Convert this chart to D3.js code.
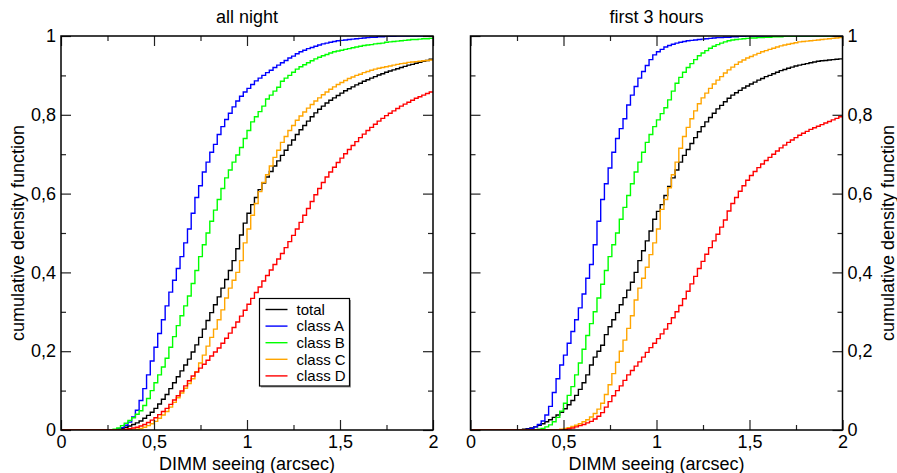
<!DOCTYPE html>
<html>
<head>
  <meta charset="UTF-8">
  <title>DIMM seeing cumulative distributions</title>
  <script src="https://cdnjs.cloudflare.com/ajax/libs/d3/7.8.5/d3.min.js"></script>
  <style>
    body { margin: 0; background: #fff; }
    svg { font-family: "Liberation Sans", Arial, sans-serif; }
    .frame { fill: none; stroke: #000; stroke-width: 1.5; }
    .tick line { stroke: #222; stroke-width: 1.2; }
    .tick text { font-size: 18px; fill: #000; }
    .title, .axis-title { font-size: 18px; fill: #000; }
    .legend text { font-size: 15px; fill: #000; }
  </style>
</head>
<body>
<div id="chart"></div>
<script>
  // Series names / colours (legend order)
  const seriesNames = ["total", "class A", "class B", "class C", "class D"];
  const seriesColors = ["#000000", "#0000ff", "#00ff00", "#ffa500", "#ff0000"];

  // CDF per 0.02 arcsec bin, bins starting at 0.00 ... 1.98
  // all night
  const allNightTotal = [
    0,0,0,0,0,0,0,0,0,0,
    0,0,0,0,0,0.002,0.004,0.007,0.01,0.014,
    0.018,0.023,0.03,0.037,0.045,0.055,0.066,0.078,0.09,0.105,
    0.12,0.135,0.15,0.165,0.18,0.198,0.216,0.235,0.256,0.278,
    0.298,0.318,0.338,0.36,0.382,0.405,0.43,0.46,0.495,0.525,
    0.55,0.572,0.59,0.61,0.627,0.642,0.656,0.67,0.683,0.697,
    0.71,0.723,0.736,0.75,0.762,0.773,0.784,0.795,0.805,0.814,
    0.822,0.83,0.837,0.843,0.849,0.855,0.861,0.866,0.871,0.876,
    0.88,0.885,0.889,0.893,0.897,0.901,0.904,0.908,0.911,0.914,
    0.917,0.92,0.923,0.926,0.928,0.931,0.933,0.936,0.938,0.941
  ];
  const allNightA = [
    0,0,0,0,0,0,0,0,0,0,
    0,0,0,0,0,0.003,0.006,0.012,0.02,0.033,
    0.05,0.075,0.105,0.14,0.175,0.21,0.245,0.28,0.315,0.35,
    0.38,0.41,0.44,0.475,0.51,0.55,0.59,0.62,0.655,0.68,
    0.705,0.725,0.75,0.77,0.788,0.804,0.82,0.835,0.847,0.858,
    0.867,0.877,0.886,0.893,0.9,0.907,0.913,0.92,0.926,0.932,
    0.938,0.944,0.949,0.955,0.96,0.964,0.968,0.971,0.974,0.977,
    0.98,0.982,0.984,0.986,0.988,0.989,0.99,0.991,0.992,0.993,
    0.994,0.995,0.996,0.997,0.997,0.998,0.998,0.999,0.999,0.999,
    1,1,1,1,1,1,1,1,1,1
  ];
  const allNightB = [
    0,0,0,0,0,0,0,0,0,0,
    0,0,0,0,0.002,0.005,0.011,0.017,0.024,0.031,
    0.04,0.049,0.062,0.08,0.1,0.12,0.14,0.16,0.182,0.21,
    0.237,0.265,0.29,0.315,0.34,0.372,0.405,0.44,0.47,0.5,
    0.53,0.558,0.585,0.613,0.64,0.66,0.68,0.698,0.717,0.74,
    0.76,0.782,0.795,0.808,0.822,0.84,0.85,0.86,0.87,0.885,
    0.893,0.9,0.908,0.916,0.922,0.927,0.932,0.937,0.942,0.946,
    0.95,0.953,0.957,0.96,0.962,0.964,0.966,0.968,0.97,0.972,
    0.974,0.976,0.977,0.978,0.98,0.981,0.982,0.984,0.985,0.986,
    0.987,0.988,0.989,0.99,0.991,0.991,0.992,0.993,0.993,0.994
  ];
  const allNightC = [
    0,0,0,0,0,0,0,0,0,0,
    0,0,0,0,0,0,0,0,0,0,
    0.002,0.004,0.007,0.011,0.016,0.022,0.03,0.038,0.047,0.058,
    0.07,0.082,0.094,0.106,0.118,0.13,0.148,0.17,0.19,0.213,
    0.235,0.256,0.28,0.305,0.335,0.36,0.38,0.4,0.43,0.475,
    0.51,0.545,0.575,0.605,0.628,0.648,0.67,0.692,0.71,0.73,
    0.745,0.76,0.773,0.786,0.797,0.807,0.817,0.826,0.835,0.843,
    0.851,0.858,0.865,0.871,0.877,0.882,0.887,0.892,0.896,0.9,
    0.903,0.907,0.91,0.913,0.916,0.918,0.92,0.922,0.924,0.926,
    0.928,0.93,0.931,0.933,0.934,0.935,0.936,0.937,0.938,0.939
  ];
  const allNightD = [
    0,0,0,0,0,0,0,0,0,0,
    0,0,0,0,0,0,0,0.002,0.003,0.005,
    0.007,0.01,0.014,0.019,0.025,0.031,0.039,0.047,0.055,0.065,
    0.076,0.087,0.099,0.112,0.125,0.137,0.147,0.157,0.167,0.177,
    0.188,0.198,0.208,0.22,0.233,0.246,0.26,0.274,0.289,0.304,
    0.319,0.334,0.349,0.363,0.378,0.392,0.406,0.42,0.434,0.448,
    0.463,0.478,0.494,0.51,0.527,0.545,0.562,0.58,0.597,0.613,
    0.628,0.642,0.655,0.667,0.679,0.69,0.701,0.712,0.722,0.732,
    0.742,0.751,0.76,0.768,0.776,0.784,0.791,0.798,0.804,0.81,
    0.816,0.822,0.827,0.832,0.837,0.842,0.846,0.85,0.854,0.858
  ];

  // first 3 hours
  const firstTotal = [
    0,0,0,0,0,0,0,0,0,0,
    0,0,0,0.001,0.002,0.003,0.005,0.008,0.012,0.016,
    0.021,0.026,0.032,0.038,0.045,0.054,0.064,0.075,0.088,0.103,
    0.12,0.14,0.165,0.185,0.2,0.215,0.242,0.262,0.28,0.298,
    0.318,0.336,0.355,0.375,0.4,0.43,0.455,0.48,0.505,0.535,
    0.555,0.572,0.595,0.618,0.64,0.66,0.68,0.697,0.712,0.727,
    0.742,0.757,0.77,0.782,0.793,0.804,0.815,0.824,0.833,0.842,
    0.85,0.856,0.862,0.868,0.873,0.878,0.883,0.888,0.892,0.897,
    0.9,0.904,0.908,0.912,0.915,0.918,0.921,0.924,0.926,0.928,
    0.93,0.932,0.934,0.936,0.937,0.938,0.939,0.94,0.941,0.942
  ];
  const firstA = [
    0,0,0,0,0,0,0,0,0,0,
    0,0,0,0,0.001,0.002,0.004,0.008,0.014,0.023,
    0.038,0.06,0.095,0.13,0.165,0.19,0.22,0.25,0.28,0.31,
    0.345,0.385,0.42,0.47,0.53,0.585,0.625,0.665,0.705,0.74,
    0.765,0.79,0.825,0.85,0.872,0.893,0.91,0.925,0.94,0.952,
    0.96,0.966,0.972,0.976,0.979,0.982,0.984,0.986,0.988,0.989,
    0.99,0.991,0.992,0.993,0.994,0.995,0.996,0.996,0.997,0.997,
    0.998,0.998,0.999,0.999,1,1,1,1,1,1,
    1,1,1,1,1,1,1,1,1,1,
    1,1,1,1,1,1,1,1,1,1
  ];
  const firstB = [
    0,0,0,0,0,0,0,0,0,0,
    0,0,0,0,0,0,0,0.001,0.002,0.004,
    0.008,0.013,0.021,0.032,0.048,0.068,0.088,0.11,0.14,0.17,
    0.205,0.24,0.27,0.3,0.335,0.37,0.405,0.44,0.47,0.5,
    0.535,0.565,0.595,0.625,0.655,0.68,0.705,0.73,0.75,0.77,
    0.787,0.803,0.818,0.838,0.86,0.88,0.895,0.908,0.92,0.93,
    0.94,0.95,0.957,0.963,0.969,0.974,0.978,0.982,0.985,0.988,
    0.99,0.991,0.992,0.993,0.994,0.995,0.995,0.996,0.996,0.997,
    0.997,0.998,0.998,0.998,0.999,0.999,0.999,0.999,1,1,
    1,1,1,1,1,1,1,1,1,1
  ];
  const firstC = [
    0,0,0,0,0,0,0,0,0,0,
    0,0,0,0,0,0,0,0,0,0,
    0,0,0,0,0.002,0.004,0.006,0.009,0.012,0.016,
    0.021,0.026,0.033,0.042,0.053,0.068,0.09,0.115,0.143,0.172,
    0.2,0.228,0.258,0.29,0.33,0.36,0.385,0.413,0.445,0.475,
    0.51,0.56,0.585,0.615,0.648,0.68,0.715,0.745,0.768,0.79,
    0.81,0.828,0.843,0.855,0.867,0.878,0.888,0.897,0.906,0.914,
    0.921,0.928,0.934,0.939,0.944,0.948,0.952,0.956,0.96,0.963,
    0.966,0.969,0.972,0.975,0.977,0.979,0.981,0.983,0.985,0.986,
    0.987,0.988,0.989,0.99,0.991,0.992,0.993,0.994,0.995,0.996
  ];
  const firstD = [
    0,0,0,0,0,0,0,0,0,0,
    0,0,0,0,0,0,0,0,0,0,
    0,0,0,0,0,0.001,0.003,0.005,0.008,0.011,
    0.014,0.018,0.022,0.028,0.035,0.044,0.058,0.072,0.087,0.1,
    0.112,0.126,0.14,0.151,0.162,0.173,0.185,0.197,0.209,0.22,
    0.232,0.244,0.256,0.27,0.285,0.3,0.316,0.333,0.352,0.371,
    0.39,0.41,0.428,0.446,0.463,0.48,0.497,0.515,0.533,0.556,
    0.575,0.59,0.606,0.62,0.634,0.646,0.656,0.666,0.675,0.684,
    0.692,0.7,0.708,0.716,0.723,0.73,0.736,0.742,0.748,0.753,
    0.758,0.763,0.767,0.771,0.775,0.779,0.783,0.787,0.791,0.795
  ];

  // axis ticks and labels
  const xMajor = [0, 0.5, 1, 1.5, 2];
  const xMajorLabels = ["0", "0,5", "1", "1,5", "2"];
  const xMinor = [0.25, 0.75, 1.25, 1.75];
  const yMajor = [0, 0.2, 0.4, 0.6, 0.8, 1];
  const yMajorLabels = ["0", "0,2", "0,4", "0,6", "0,8", "1"];
  const yMinor = [0.1, 0.3, 0.5, 0.7, 0.9];

  const binWidth = 0.02;
  const binStart = allNightTotal.map((v, i) => +(i * binWidth).toFixed(2));

  const panels = [
    { title: "all night", left: 61, labelSide: "left", legend: true,
      series: [allNightTotal, allNightA, allNightB, allNightC, allNightD] },
    { title: "first 3 hours", left: 470.5, labelSide: "right", legend: false,
      series: [firstTotal, firstA, firstB, firstC, firstD] }
  ];

  const W = 897, H = 473;
  const plotW = 372, plotTop = 36, plotH = 394;

  const svg = d3.select("#chart").append("svg")
    .attr("width", W)
    .attr("height", H);

  panels.forEach((p, pi) => {
    const x = d3.scaleLinear().domain([0, 2]).range([p.left, p.left + plotW]);
    const y = d3.scaleLinear().domain([0, 1]).range([plotTop + plotH, plotTop]);

    const clipId = "clip" + pi;
    svg.append("clipPath").attr("id", clipId)
      .append("rect")
      .attr("x", p.left).attr("y", plotTop)
      .attr("width", plotW).attr("height", plotH);

    // step lines
    const line = d3.line()
      .x(d => x(d[0]))
      .y(d => y(d[1]))
      .curve(d3.curveStepAfter);

    const lines = svg.append("g").attr("clip-path", `url(#${clipId})`);
    p.series.forEach((vals, si) => {
      const pts = binStart.map((b, i) => [b, vals[i]]);
      pts.push([2, vals[vals.length - 1]]);
      lines.append("path")
        .attr("d", line(pts))
        .attr("fill", "none")
        .attr("stroke", seriesColors[si])
        .attr("stroke-width", 1.4);
    });

    // axes: ticks point inward on all four sides
    const addAxis = (axisFn, scale, values, size, labels, transform) => {
      const ax = axisFn(scale)
        .tickValues(values)
        .tickSize(-size)
        .tickSizeOuter(0)
        .tickPadding(5)
        .tickFormat((d, i) => labels ? labels[i] : "");
      svg.append("g")
        .attr("transform", transform)
        .call(ax)
        .call(g => g.select(".domain").remove())
        .attr("font-family", null)
        .attr("font-size", null);
    };

    const bottom = `translate(0,${plotTop + plotH})`;
    const top = `translate(0,${plotTop})`;
    const leftT = `translate(${p.left},0)`;
    const rightT = `translate(${p.left + plotW},0)`;

    addAxis(d3.axisBottom, x, xMajor, 10, xMajorLabels, bottom);
    addAxis(d3.axisBottom, x, xMinor, 5, null, bottom);
    addAxis(d3.axisTop, x, xMajor, 10, null, top);
    addAxis(d3.axisTop, x, xMinor, 5, null, top);
    addAxis(d3.axisLeft, y, yMajor, 10, p.labelSide === "left" ? yMajorLabels : null, leftT);
    addAxis(d3.axisLeft, y, yMinor, 5, null, leftT);
    addAxis(d3.axisRight, y, yMajor, 10, p.labelSide === "right" ? yMajorLabels : null, rightT);
    addAxis(d3.axisRight, y, yMinor, 5, null, rightT);

    svg.append("rect")
      .attr("class", "frame")
      .attr("x", p.left).attr("y", plotTop)
      .attr("width", plotW).attr("height", plotH);

    // titles
    const cx = p.left + plotW / 2;
    svg.append("text").attr("class", "title")
      .attr("x", cx).attr("y", 23)
      .attr("text-anchor", "middle")
      .text(p.title);

    svg.append("text").attr("class", "axis-title")
      .attr("x", cx).attr("y", 470)
      .attr("text-anchor", "middle")
      .text("DIMM seeing (arcsec)");

    const ty = p.labelSide === "left" ? 24 : 894;
    svg.append("text").attr("class", "axis-title")
      .attr("transform", `translate(${ty},${plotTop + plotH / 2}) rotate(-90)`)
      .attr("text-anchor", "middle")
      .text("cumulative density function");

    // legend
    if (p.legend) {
      const lg = svg.append("g").attr("class", "legend");
      const lx = 259.5, ly = 298.5, lw = 90, lh = 87.5;
      lg.append("rect")
        .attr("x", lx + 1.5).attr("y", ly + 1.5)
        .attr("width", lw).attr("height", lh)
        .attr("fill", "#999");
      lg.append("rect")
        .attr("x", lx).attr("y", ly)
        .attr("width", lw).attr("height", lh)
        .attr("fill", "#fff").attr("stroke", "#000").attr("stroke-width", 1.2);
      seriesNames.forEach((name, i) => {
        const ry = ly + 11 + i * 16.6;
        lg.append("line")
          .attr("x1", lx + 6).attr("x2", lx + 28)
          .attr("y1", ry).attr("y2", ry)
          .attr("stroke", seriesColors[i]).attr("stroke-width", 1.4);
        lg.append("text")
          .attr("x", lx + 37).attr("y", ry)
          .attr("dy", "0.35em")
          .text(name);
      });
    }
  });
</script>
</body>
</html>
